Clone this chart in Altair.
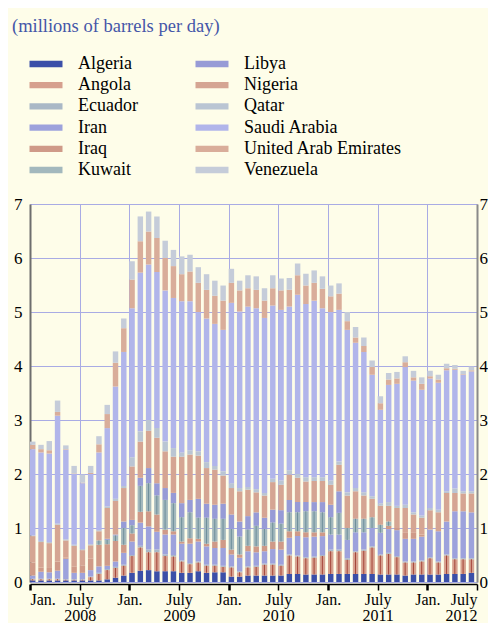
import altair as alt
import pandas as pd

# Months: index 0 = Jan 2008 ... 53 = Jun 2012
countries = ["Algeria", "Angola", "Ecuador", "Iran", "Iraq", "Kuwait", "Libya",
             "Nigeria", "Qatar", "Saudi Arabia", "United Arab Emirates", "Venezuela"]

algeria = [.03, .03, .03, .03, .03, .03, .03, .03, .03, .05, .08, .12,
           .17, .21, .22, .20, .20, .20, .17, .17, .20, .17, .18, .18,
           .10, .10, .12, .12, .12, .12, .12, .15, .15, .14, .14, .14,
           .15, .15, .15, .15, .15, .15, .14, .14, .14, .12, .14, .14,
           .14, .14, .15, .15, .15, .17]
angola = [.02, .02, .02, .02, .01, .01, .01, .06, .12, .17, .18, .18,
          .31, .43, .33, .35, .28, .27, .21, .16, .16, .13, .12, .10,
          .17, .08, .15, .16, .20, .20, .18, .34, .32, .30, .31, .34,
          .42, .42, .26, .40, .43, .49, .35, .38, .32, .24, .22, .24,
          .30, .22, .34, .27, .27, .25]
ecuador = [.01, .01, .01, .01, .01, .01, .01, .01, .02, .02, .02, .02,
           .02, .03, .05, .05, .03, .03, .02, .02, .02, .02, .02, .02,
           .02, .02, .02, .02, .02, .02, .02, .02, .02, .02, .02, .02,
           .03, .03, .03, .02, .02, .02, .02, .02, .02, .02, .02, .02,
           .02, .02, .02, .02, .02, .02]
iran = [.06, .13, .12, .15, .38, .12, .12, .12, .12, .06, .10, .22,
        .25, .43, .43, .33, .37, .38, .31, .36, .37, .34, .31, .33,
        .22, .25, .28, .25, .23, .27, .28, .31, .36, .37, .37, .35,
        .28, .28, .34, .35, .32, .34, .40, .44, .48, .42, .42, .44,
        .51, .56, .61, .87, .87, .85]
iraq = [.24, .08, .08, .17, .02, .12, .13, .21, .40, .40, .38, .15,
        .15, .20, .28, .32, .09, .06, .04, .10, .05, .05, .12, .15,
        .09, .06, .10, .11, .10, .14, .15, .12, .09, .09, .08, .07,
        0, 0, 0, 0, 0, 0, 0, .06, .04, .11, .11, .04,
        0, 0, 0, 0, 0, 0]
kuwait = [0, 0, 0, 0, 0, 0, 0, 0, .08, .08, .10, .31,
          .15, .48, .52, .35, .55, .52, .45, .48, .39, .48, .42, .39,
          .38, .33, .30, .38, .31, .35, .33, .35, .35, .39, .39, .37,
          .32, .40, .22, .25, .25, .20, .15, .08, 0, 0, 0, 0,
          0, 0, 0, 0, 0, 0]
libya = [0, 0, 0, 0, 0, 0, 0, 0, 0, .02, .02, .12,
         .10, .15, .28, .23, .22, .19, .26, .23, .35, .26, .26, .28,
         .27, .28, .25, .25, .21, .24, .25, .23, .19, .17, .17, .19,
         .23, .40, 0, 0, 0, 0, 0, 0, 0, 0, 0, 0,
         0, 0, 0, 0, 0, 0]
nigeria = [.49, .47, .46, .68, .32, .38, .29, .25, .17, .57, .62, .62,
           .99, .67, .69, .84, .68, .67, .86, .84, .80, .66, .65, .52,
           .49, .56, .49, .37, .41, .51, .47, .47, .45, .38, .39, .39,
           .37, .49, .60, .51, .43, .34, .35, .29, .37, .46, .34, .31,
           .36, .35, .53, .34, .33, .35]
qatar = [.01, .02, .02, .02, .02, .02, .02, .02, .02, .03, .04, .04,
         .17, .19, .20, .18, .18, .16, .08, .08, .08, .11, .07, .08,
         .09, .06, .05, .06, .05, .06, .08, .08, .07, .08, .07, .07,
         .08, .06, .06, .06, .06, .05, .05, .07, .04, .06, .04, .04,
         .04, .05, .03, .08, .04, .04]
saudi = [1.60, 1.64, 1.64, 2.00, 1.66, 1.31, 1.22, 1.30, 1.44, 1.45, 2.08, 2.48,
         2.76, 2.94, 2.88, 2.89, 2.80, 2.78, 2.80, 2.76, 2.58, 2.66, 2.63, 2.62,
         3.34, 3.27, 3.34, 3.35, 3.24, 3.21, 3.16, 3.03, 3.32, 3.21, 3.27, 3.13,
         3.12, 2.81, 3.01, 2.69, 2.60, 2.25, 1.73, 2.17, 2.26, 2.55, 2.44, 2.33,
         2.40, 2.35, 2.24, 2.20, 2.16, 2.22]
uae = [.08, .06, .06, .07, .01, .01, .01, .02, .15, .26, .44, .44,
       .53, .58, .61, .63, .60, .59, .50, .55, .54, .53, .52, .54,
       .37, .39, .34, .34, .32, .32, .36, .31, .36, .34, .33, .36,
       .29, .30, .16, .10, .11, .14, .12, .10, .10, .09, .06, .11,
       .04, .06, .04, .02, .01, .02]
venezuela = [.06, .08, .17, .21, .07, .14, .15, .13, .15, .17, .21, .18,
             .34, .46, .37, .40, .32, .30, .33, .31, .29, .29, .28, .28,
             .26, .18, .24, .25, .23, .24, .22, .22, .22, .22, .23, .23,
             .20, .19, .17, .19, .16, .12, .13, .12, .12, .11, .12, .12,
             .10, .09, .08, .07, .06, .07]

series = [algeria, angola, ecuador, iran, iraq, kuwait, libya,
          nigeria, qatar, saudi, uae, venezuela]

colors = ["#3b4fa8", "#d6a08e", "#aab8c6", "#9da2dc", "#cf9a88", "#a3b8bd",
          "#979bd6", "#d5a593", "#bac5d3", "#b1b5ea", "#d9ad9a", "#c5ccd9"]

x_ticks = list(range(0, 55, 6))
y_ticks = list(range(0, 8))

rows = []
for k, (name, vals) in enumerate(zip(countries, series)):
    for m, v in enumerate(vals):
        rows.append({"month": m, "country": name, "rank": k, "value": v})
df = pd.DataFrame(rows)

serif = "Liberation Serif"
grid_color = "#a9abe4"

xscale = alt.Scale(domain=[0, 54], nice=False, zero=False)
yscale = alt.Scale(domain=[0, 7], nice=False)

base = alt.Chart(df).transform_stack(
    stack="value", groupby=["month"], as_=["y0", "y1"],
    sort=[alt.SortField("rank", order="ascending")]
).transform_calculate(
    m_end="datum.month + 0.66",
    s0="datum.month + 0.26",
    s1="datum.month + 0.38",
)

x_axis = alt.Axis(
    values=x_ticks, title=None, grid=True, gridColor=grid_color, gridWidth=1,
    labelExpr="datum.value % 12 == 0 ? 'Jan.' : ['July', '' + (2008 + floor(datum.value / 12))]",
    labelFont=serif, labelFontSize=16, labelColor="black", labelLineHeight=16,
    labelPadding=1, labelAngle=0,
    domain=True, domainColor="black", domainWidth=1.5, offset=2,
    ticks=True, tickColor="black", tickSize=6,
    tickWidth={"condition": {"test": "datum.value % 12 == 0", "value": 2.5}, "value": 1.5},
)

left_axis = alt.Axis(
    values=y_ticks, title=None, grid=True, gridColor=grid_color, gridWidth=1,
    labelFont=serif, labelFontSize=17, labelColor="black", labelPadding=8,
    ticks=False, domain=True, domainColor="#6e6e6e", domainWidth=2,
)
right_axis = alt.Axis(
    values=y_ticks, title=None, grid=False, orient="right",
    labelFont=serif, labelFontSize=17, labelColor="black", labelPadding=2,
    ticks=False, domain=True, domainColor="#8a8a8a", domainWidth=2,
)

bars = base.mark_bar().encode(
    x=alt.X("month:Q", scale=xscale, axis=x_axis),
    x2="m_end:Q",
    y=alt.Y("y1:Q", scale=yscale, axis=left_axis),
    y2="y0:Q",
    color=alt.Color(
        "country:N",
        scale=alt.Scale(domain=countries, range=colors),
        legend=alt.Legend(
            title=None, orient="none", legendX=7, legendY=-149,
            columns=2, columnPadding=57, rowPadding=3.2,
            symbolType="M-2,-0.38H2V0.38H-2Z", symbolSize=272,
            symbolStrokeWidth=0, symbolOpacity=1,
            labelFont=serif, labelFontSize=18, labelColor="black",
            labelOffset=23,
        ),
    ),
)

stripe_angola = base.transform_filter("datum.country == 'Angola'").mark_bar(
    color="#a4453a").encode(
    x=alt.X("s0:Q", scale=xscale, axis=x_axis),
    x2="s1:Q",
    y=alt.Y("y1:Q", scale=yscale, axis=None),
    y2="y0:Q",
)
stripe_kuwait = base.transform_filter("datum.country == 'Kuwait'").mark_bar(
    color="#6f8f9b").encode(
    x=alt.X("s0:Q", scale=xscale, axis=x_axis),
    x2="s1:Q",
    y=alt.Y("y1:Q", scale=yscale, axis=None),
    y2="y0:Q",
)

right = alt.Chart(df).mark_point(opacity=0).encode(
    y=alt.Y("value:Q", scale=yscale, axis=right_axis),
)

chart = alt.layer(bars, stripe_angola, stripe_kuwait, right).resolve_scale(
    y="independent"
).properties(
    width=447, height=378,
    autosize=alt.AutoSizeParams(type="none"),
    padding={"left": 22, "top": 196, "right": 11, "bottom": 41},
    title=alt.TitleParams(
        "(millions of barrels per day)", anchor="start", frame="group",
        dx=-18, offset=20, font=serif, fontSize=18.5, fontWeight="normal",
        color="#4456a8",
    ),
).configure(background="#fefde9").configure_view(stroke=None)

chart.save("out.html", embed_options={"renderer": "svg", "actions": False})
